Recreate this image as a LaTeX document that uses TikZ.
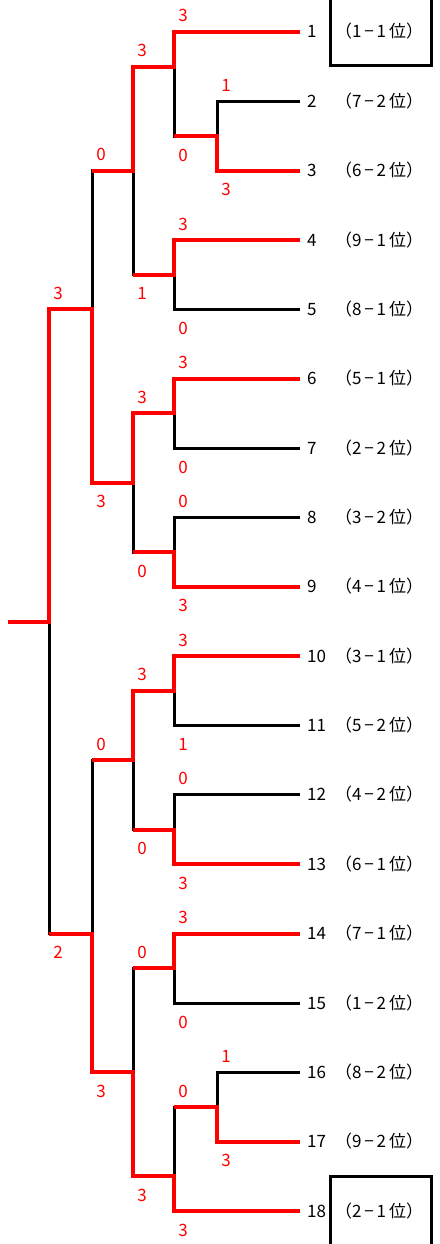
\documentclass[tikz,border=0pt]{standalone}
\usepackage{fontspec}
\setmainfont{Noto Sans CJK JP}
\usetikzlibrary{positioning}

\tikzset{
  win/.style={draw=red, line width=4pt},
  lose/.style={draw=black, line width=3pt},
  num/.style={font=\fontsize{17}{17}\selectfont, inner sep=0pt, anchor=base west},
  score/.style={text=red, font=\fontsize{17}{17}\selectfont, inner sep=0pt, anchor=base, xshift=9pt},
  scup/.style={score, yshift=10pt},
  scdown/.style={score, yshift=-25pt},
  frame/.style={draw=black, line width=3pt}
}

\begin{document}
\begin{tikzpicture}[x=1pt, y=-1pt]
  \useasboundingbox (0,0) rectangle (439,1244);
  % leaves
  \foreach \i/\a/\b in {1/1/1, 2/7/2, 3/6/2, 4/9/1, 5/8/1, 6/5/1, 7/2/2, 8/3/2, 9/4/1,
      10/3/1, 11/5/2, 12/4/2, 13/6/1, 14/7/1, 15/1/2, 16/8/2, 17/9/2, 18/2/1} {
    \coordinate (l\i) at (300,{32+(\i-1)*69.36});                    % end of leaf line
    \node [num] (n\i) at ([xshift=7pt,yshift=-6pt]l\i) {\i};         % team number
    \node [num] (r\i) at ([xshift=35pt,yshift=-6pt]l\i)
      {（\a\,−\,\b\,位）};                                           % group place
  }
  % matches
  \coordinate (mA) at (217,136.04);    % 2 vs 3
  \coordinate (mB) at (174,66.68);     % 1 vs A
  \coordinate (mC) at (174,274.76);    % 4 vs 5
  \coordinate (mD) at (133,170.72);    % B vs C
  \coordinate (mE) at (174,413.48);    % 6 vs 7
  \coordinate (mF) at (174,552.20);    % 8 vs 9
  \coordinate (mG) at (133,482.84);    % E vs F
  \coordinate (mH) at (92,309.44);     % D vs G
  \coordinate (mI) at (174,690.92);    % 10 vs 11
  \coordinate (mJ) at (174,829.64);    % 12 vs 13
  \coordinate (mK) at (133,760.28);    % I vs J
  \coordinate (mL) at (174,968.36);    % 14 vs 15
  \coordinate (mM) at (217,1107.08);   % 16 vs 17
  \coordinate (mN) at (174,1176.44);   % M vs 18
  \coordinate (mO) at (133,1072.40);   % L vs N
  \coordinate (mP) at (92,933.68);     % K vs O
  \coordinate (final) at (49,621.56);  % H vs P
  \coordinate (start) at (8,621.56);

  % black bracket
  \draw [lose] (l2) -| (mA) |- (l3);
  \draw [lose] (l1) -| (mB) |- (mA);
  \draw [lose] (l4) -| (mC) |- (l5);
  \draw [lose] (mB) -| (mD) |- (mC);
  \draw [lose] (l6) -| (mE) |- (l7);
  \draw [lose] (l8) -| (mF) |- (l9);
  \draw [lose] (mE) -| (mG) |- (mF);
  \draw [lose] (mD) -| (mH) |- (mG);
  \draw [lose] (l10) -| (mI) |- (l11);
  \draw [lose] (l12) -| (mJ) |- (l13);
  \draw [lose] (mI) -| (mK) |- (mJ);
  \draw [lose] (l14) -| (mL) |- (l15);
  \draw [lose] (l16) -| (mM) |- (l17);
  \draw [lose] (mM) -| (mN) |- (l18);
  \draw [lose] (mL) -| (mO) |- (mN);
  \draw [lose] (mK) -| (mP) |- (mO);
  \draw [lose] (mH) -| (final) |- (mP);

  % red winning lines
  \draw [win] (l1) -| (mB) -| (mD) -- (mD -| mH);
  \draw [win] (l3) -| (mA) -- (mA -| mB);
  \draw [win] (l4) -| (mC) -- (mC -| mD);
  \draw [win] (l6) -| (mE) -| (mG) -| (mH) -| (final) -- (start);
  \draw [win] (l9) -| (mF) -- (mF -| mG);
  \draw [win] (l10) -| (mI) -| (mK) -- (mK -| mP);
  \draw [win] (l13) -| (mJ) -- (mJ -| mK);
  \draw [win] (l14) -| (mL) -- (mL -| mO);
  \draw [win] (l17) -| (mM) -- (mM -| mN);
  \draw [win] (l18) -| (mN) -| (mO) -| (mP) -- (mP -| final);

  % scores
  \node [scup] (sA1) at (l2 -| mA) {1};
  \node [scdown] (sA2) at (l3 -| mA) {3};
  \node [scup] (sB1) at (l1 -| mB) {3};
  \node [scdown] (sB2) at (mA -| mB) {0};
  \node [scup] (sC1) at (l4 -| mC) {3};
  \node [scdown] (sC2) at (l5 -| mC) {0};
  \node [scup] (sD1) at (mB -| mD) {3};
  \node [scdown] (sD2) at (mC -| mD) {1};
  \node [scup] (sE1) at (l6 -| mE) {3};
  \node [scdown] (sE2) at (l7 -| mE) {0};
  \node [scup] (sF1) at (l8 -| mF) {0};
  \node [scdown] (sF2) at (l9 -| mF) {3};
  \node [scup] (sG1) at (mE -| mG) {3};
  \node [scdown] (sG2) at (mF -| mG) {0};
  \node [scup] (sH1) at (mD -| mH) {0};
  \node [scdown] (sH2) at (mG -| mH) {3};
  \node [scup] (sI1) at (l10 -| mI) {3};
  \node [scdown] (sI2) at (l11 -| mI) {1};
  \node [scup] (sJ1) at (l12 -| mJ) {0};
  \node [scdown] (sJ2) at (l13 -| mJ) {3};
  \node [scup] (sK1) at (mI -| mK) {3};
  \node [scdown] (sK2) at (mJ -| mK) {0};
  \node [scup] (sL1) at (l14 -| mL) {3};
  \node [scdown] (sL2) at (l15 -| mL) {0};
  \node [scup] (sM1) at (l16 -| mM) {1};
  \node [scdown] (sM2) at (l17 -| mM) {3};
  \node [scup] (sN1) at (mM -| mN) {0};
  \node [scdown] (sN2) at (l18 -| mN) {3};
  \node [scup] (sO1) at (mL -| mO) {0};
  \node [scdown] (sO2) at (mN -| mO) {3};
  \node [scup] (sP1) at (mK -| mP) {0};
  \node [scdown] (sP2) at (mO -| mP) {3};
  \node [scup] (sF1f) at (mH -| final) {3};
  \node [scdown] (sF2f) at (mP -| final) {2};

  % frames round the two seeds
  \draw [frame] (330,-5) |- (431,66) -- (431,-5);
  \draw [frame] (330,1250) |- (431,1176) -- (431,1250);
\end{tikzpicture}
\end{document}
